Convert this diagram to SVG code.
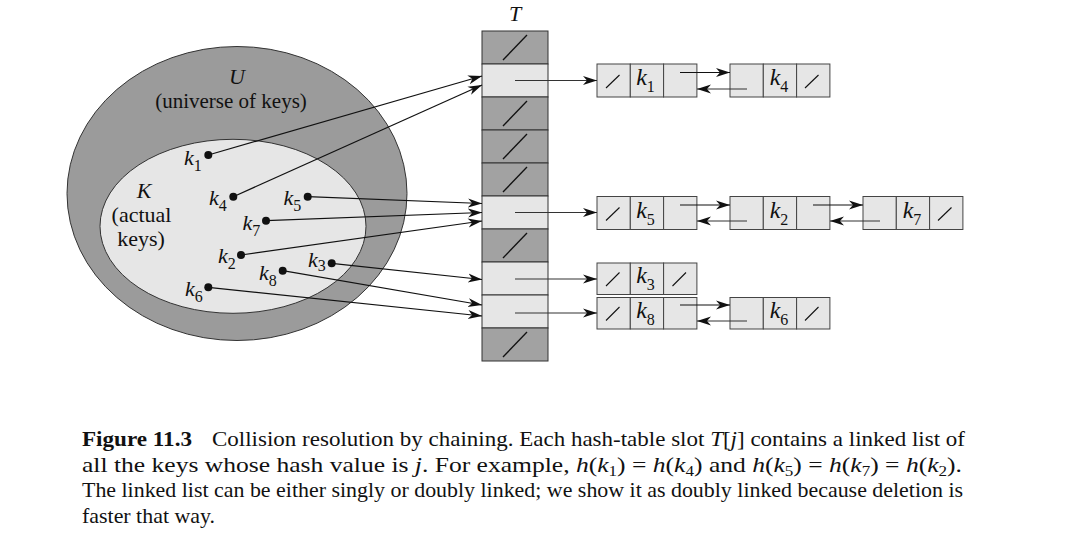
<svg xmlns="http://www.w3.org/2000/svg" width="1072" height="560" viewBox="0 0 1072 560">
<style>
  text { font-family: "Liberation Serif", "Times New Roman", serif; fill: #111; }
  .it { font-style: italic; }
  .lbl { font-size: 22px; }
  .key { font-size: 22px; font-style: italic; }
  .lkey { font-size: 24px; font-style: italic; }
  .sub { font-size: 16px; font-style: normal; }
  .cap { font-size: 21px; }
  .csub { font-size: 14px; font-style: normal; }
  .dark { fill: #a2a2a2; stroke: #333; stroke-width: 1; }
  .light { fill: #e6e6e6; stroke: #333; stroke-width: 1; }
  .cell { fill: #e6e6e6; stroke: #444; stroke-width: 1; }
  .slash { stroke: #111; stroke-width: 1.3; }
  .nil { stroke: #111; stroke-width: 1.1; }
  .conn { stroke: #111; stroke-width: 1.2; fill: none; marker-end: url(#ah); }
  .ptr { stroke: #333; stroke-width: 1.1; fill: none; marker-end: url(#ah); }
  .dot { fill: #111; }
</style>
<defs>
  <marker id="ah" markerUnits="userSpaceOnUse" markerWidth="16" markerHeight="12" refX="14" refY="6" orient="auto" viewBox="0 0 16 12">
    <path d="M0,1.5 L14,6 L0,10.5 L4,6 Z" fill="#111"/>
  </marker>
</defs>
<rect width="1072" height="560" fill="#ffffff"/>

<g id="universe">
  <ellipse cx="237" cy="193.5" rx="170" ry="147" fill="#9b9b9b" stroke="#333" stroke-width="1"/>
  <text class="lbl it" x="237" y="84" text-anchor="middle">U</text>
  <text x="231" y="108" font-size="21" text-anchor="middle">(universe of keys)</text>
</g>
<g id="actual-keys">
  <ellipse cx="233" cy="226.3" rx="133" ry="87" fill="#e6e6e6" stroke="#333" stroke-width="1"/>
  <text class="lbl it" x="144" y="198" text-anchor="middle">K</text>
  <text class="lbl" x="141.5" y="222" text-anchor="middle">(actual</text>
  <text class="lbl" x="141" y="246" text-anchor="middle">keys)</text>
</g>

<g id="key-k1"><circle class="dot" cx="208.3" cy="155" r="4"/><text class="key" x="184" y="165">k<tspan class="sub" dy="6">1</tspan></text></g>
<g id="key-k4"><circle class="dot" cx="233.3" cy="196.7" r="4"/><text class="key" x="209" y="205">k<tspan class="sub" dy="6">4</tspan></text></g>
<g id="key-k5"><circle class="dot" cx="307.7" cy="196.7" r="4"/><text class="key" x="283.5" y="205">k<tspan class="sub" dy="6">5</tspan></text></g>
<g id="key-k7"><circle class="dot" cx="266" cy="220.7" r="4"/><text class="key" x="242.5" y="230">k<tspan class="sub" dy="6">7</tspan></text></g>
<g id="key-k2"><circle class="dot" cx="241" cy="255" r="4"/><text class="key" x="218" y="263">k<tspan class="sub" dy="6">2</tspan></text></g>
<g id="key-k3"><circle class="dot" cx="331.7" cy="263.3" r="4"/><text class="key" x="308" y="267">k<tspan class="sub" dy="4">3</tspan></text></g>
<g id="key-k8"><circle class="dot" cx="282.7" cy="270.7" r="4"/><text class="key" x="259" y="280">k<tspan class="sub" dy="6">8</tspan></text></g>
<g id="key-k6"><circle class="dot" cx="208.3" cy="287.3" r="4"/><text class="key" x="185" y="296">k<tspan class="sub" dy="6">6</tspan></text></g>

<g id="table">
  <text class="lbl it" x="515" y="21" text-anchor="middle">T</text>
  <rect class="dark" x="482" y="31" width="66" height="33"/>
  <rect class="light" x="482" y="64" width="66" height="33"/>
  <rect class="dark" x="482" y="97" width="66" height="33"/>
  <rect class="dark" x="482" y="130" width="66" height="33"/>
  <rect class="dark" x="482" y="163" width="66" height="33"/>
  <rect class="light" x="482" y="196" width="66" height="33"/>
  <rect class="dark" x="482" y="229" width="66" height="33"/>
  <rect class="light" x="482" y="262" width="66" height="33"/>
  <rect class="light" x="482" y="295" width="66" height="33"/>
  <rect class="dark" x="482" y="328" width="66" height="33"/>
  <line class="slash" x1="503" y1="60" x2="527" y2="35"/>
  <line class="slash" x1="503" y1="126" x2="527" y2="101"/>
  <line class="slash" x1="503" y1="159" x2="527" y2="134"/>
  <line class="slash" x1="503" y1="192" x2="527" y2="167"/>
  <line class="slash" x1="503" y1="258" x2="527" y2="233"/>
  <line class="slash" x1="503" y1="357" x2="527" y2="332"/>
</g>

<g id="node-k1">
  <rect class="cell" x="597" y="64" width="33.3" height="33"/>
  <rect class="cell" x="630.3" y="64" width="33.3" height="33"/>
  <rect class="cell" x="663.6" y="64" width="33.3" height="33"/>
  <line class="nil" x1="606" y1="88" x2="619.5" y2="75"/>
  <text class="lkey" x="645.5" y="85" text-anchor="middle">k<tspan class="sub" dy="7">1</tspan></text>
</g>
<g id="node-k4">
  <rect class="cell" x="730" y="64" width="33.3" height="33"/>
  <rect class="cell" x="763.3" y="64" width="33.3" height="33"/>
  <rect class="cell" x="796.6" y="64" width="33.3" height="33"/>
  <line class="nil" x1="805" y1="88" x2="818.5" y2="75"/>
  <text class="lkey" x="779" y="85" text-anchor="middle">k<tspan class="sub" dy="7">4</tspan></text>
</g>
<g id="node-k5">
  <rect class="cell" x="597" y="196.5" width="33.3" height="33"/>
  <rect class="cell" x="630.3" y="196.5" width="33.3" height="33"/>
  <rect class="cell" x="663.6" y="196.5" width="33.3" height="33"/>
  <line class="nil" x1="606" y1="220.5" x2="619.5" y2="207.5"/>
  <text class="lkey" x="645.5" y="217.5" text-anchor="middle">k<tspan class="sub" dy="7">5</tspan></text>
</g>
<g id="node-k2">
  <rect class="cell" x="730" y="196.5" width="33.3" height="33"/>
  <rect class="cell" x="763.3" y="196.5" width="33.3" height="33"/>
  <rect class="cell" x="796.6" y="196.5" width="33.3" height="33"/>
  <text class="lkey" x="779" y="217.5" text-anchor="middle">k<tspan class="sub" dy="7">2</tspan></text>
</g>
<g id="node-k7">
  <rect class="cell" x="863" y="196.5" width="33.3" height="33"/>
  <rect class="cell" x="896.3" y="196.5" width="33.3" height="33"/>
  <rect class="cell" x="929.6" y="196.5" width="33.3" height="33"/>
  <line class="nil" x1="938" y1="220.5" x2="951.5" y2="207.5"/>
  <text class="lkey" x="912" y="217.5" text-anchor="middle">k<tspan class="sub" dy="7">7</tspan></text>
</g>
<g id="node-k3">
  <rect class="cell" x="597" y="263" width="33.3" height="31.5"/>
  <rect class="cell" x="630.3" y="263" width="33.3" height="31.5"/>
  <rect class="cell" x="663.6" y="263" width="33.3" height="31.5"/>
  <line class="nil" x1="606" y1="286" x2="619.5" y2="272.5"/>
  <line class="nil" x1="672.5" y1="286" x2="686" y2="272.5"/>
  <text class="lkey" x="645.5" y="283" text-anchor="middle">k<tspan class="sub" dy="7">3</tspan></text>
</g>
<g id="node-k8">
  <rect class="cell" x="597" y="297.5" width="33.3" height="31.5"/>
  <rect class="cell" x="630.3" y="297.5" width="33.3" height="31.5"/>
  <rect class="cell" x="663.6" y="297.5" width="33.3" height="31.5"/>
  <line class="nil" x1="606" y1="320.5" x2="619.5" y2="307"/>
  <text class="lkey" x="645.5" y="317.5" text-anchor="middle">k<tspan class="sub" dy="7">8</tspan></text>
</g>
<g id="node-k6">
  <rect class="cell" x="730" y="297.5" width="33.3" height="31.5"/>
  <rect class="cell" x="763.3" y="297.5" width="33.3" height="31.5"/>
  <rect class="cell" x="796.6" y="297.5" width="33.3" height="31.5"/>
  <line class="nil" x1="805" y1="320.5" x2="818.5" y2="307"/>
  <text class="lkey" x="779" y="317.5" text-anchor="middle">k<tspan class="sub" dy="7">6</tspan></text>
</g>

<g id="connectors">
  <line class="conn" x1="208.3" y1="155" x2="482" y2="76"/>
  <line class="conn" x1="233.3" y1="196.7" x2="482" y2="85"/>
  <line class="conn" x1="307.7" y1="196.7" x2="482" y2="203.5"/>
  <line class="conn" x1="266" y1="220.7" x2="482" y2="212.5"/>
  <line class="conn" x1="241" y1="255" x2="482" y2="221"/>
  <line class="conn" x1="331.7" y1="263.3" x2="482" y2="279.5"/>
  <line class="conn" x1="282.7" y1="270.7" x2="482" y2="305"/>
  <line class="conn" x1="208.3" y1="287.3" x2="482" y2="316"/>
  <line class="ptr" x1="515" y1="80.5" x2="597" y2="80.5"/>
  <line class="ptr" x1="515" y1="212.5" x2="597" y2="212.5"/>
  <line class="ptr" x1="515" y1="279" x2="597" y2="279"/>
  <line class="ptr" x1="515" y1="313" x2="597" y2="313"/>
  <line class="conn" x1="680" y1="72.5" x2="730" y2="72.5"/>
  <line class="ptr" x1="747" y1="89" x2="697" y2="89"/>
  <line class="conn" x1="680" y1="205" x2="730" y2="205"/>
  <line class="ptr" x1="747" y1="221" x2="697" y2="221"/>
  <line class="conn" x1="813" y1="205" x2="863" y2="205"/>
  <line class="ptr" x1="880" y1="221" x2="830" y2="221"/>
  <line class="conn" x1="680" y1="305" x2="730" y2="305"/>
  <line class="ptr" x1="747" y1="321" x2="697" y2="321"/>
</g>

<g id="caption">
  <text class="cap" x="82" y="446" font-weight="bold" textLength="110" lengthAdjust="spacingAndGlyphs">Figure 11.3</text>
  <text class="cap" x="212" y="446" textLength="753" lengthAdjust="spacingAndGlyphs">Collision resolution by chaining. Each hash-table slot <tspan class="it">T</tspan>[<tspan class="it">j</tspan>] contains a linked list of</text>
  <text class="cap" x="82" y="471.5" textLength="880" lengthAdjust="spacingAndGlyphs">all the keys whose hash value is <tspan class="it">j</tspan>. For example, <tspan class="it">h</tspan>(<tspan class="it">k</tspan><tspan class="csub" dy="4">1</tspan><tspan dy="-4">)</tspan> = <tspan class="it">h</tspan>(<tspan class="it">k</tspan><tspan class="csub" dy="4">4</tspan><tspan dy="-4">)</tspan> and <tspan class="it">h</tspan>(<tspan class="it">k</tspan><tspan class="csub" dy="4">5</tspan><tspan dy="-4">)</tspan> = <tspan class="it">h</tspan>(<tspan class="it">k</tspan><tspan class="csub" dy="4">7</tspan><tspan dy="-4">)</tspan> = <tspan class="it">h</tspan>(<tspan class="it">k</tspan><tspan class="csub" dy="4">2</tspan><tspan dy="-4">).</tspan></text>
  <text class="cap" x="82" y="497" textLength="881" lengthAdjust="spacingAndGlyphs">The linked list can be either singly or doubly linked; we show it as doubly linked because deletion is</text>
  <text class="cap" x="82" y="522.5" textLength="133" lengthAdjust="spacingAndGlyphs">faster that way.</text>
</g>
</svg>
